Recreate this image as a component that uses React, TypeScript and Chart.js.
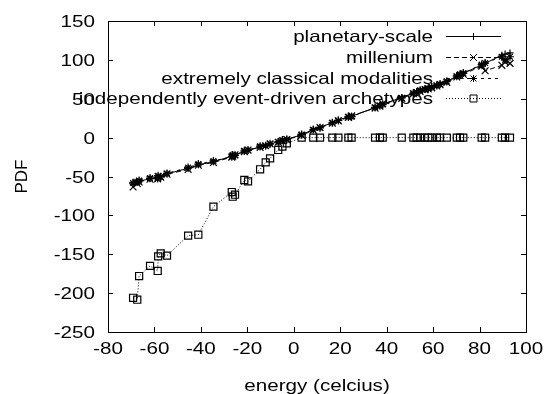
import React, { useEffect, useRef } from "react";
import { Chart, registerables } from "chart.js";

Chart.register(...registerables);

const xValues = [-69.2, -67.4, -66.6, -61.9, -58.6, -58.4, -57.3, -54.6, -45.5, -41.1, -34.6, -26.7, -26.3, -25.3, -21.3, -19.7, -14.5, -12.1, -10.2, -6.7, -4.9, -3.0, 3.4, 8.4, 11.3, 16.6, 19.2, 23.5, 24.9, 35.0, 37.1, 38.3, 46.5, 51.5, 52.9, 54.4, 56.5, 57.9, 59.4, 61.6, 63.0, 65.9, 70.2, 71.6, 73.0, 80.9, 82.4, 89.6, 91.0, 93.1];

const planetary = [-57.5, -56.5, -56, -53, -51.5, -51, -50, -46.5, -39.5, -35, -31, -24, -23.5, -22.5, -17.5, -16.5, -11.7, -10, -8.5, -5, -3.5, -2, 3.5, 10.7, 13.3, 19.2, 22.7, 26.5, 27.5, 38.5, 41.5, 43, 51.5, 57.5, 59, 60.5, 62, 63, 65.5, 67.5, 68.5, 72, 79.5, 81, 82.7, 93.5, 95.6, 106, 107.5, 109];

const millenium = [-63.5, -59, -57, -53.5, -53, -50, -51, -47, -41, -35.5, -32, -25, -24, -22, -18, -16, -12.5, -10.5, -8, -6, -4, -2.5, 3, 9.5, 13, 18.5, 21.5, 26, 28, 38, 40.5, 43.5, 50.5, 56.5, 58, 59.5, 61.5, 62.5, 64, 66.5, 68, 71, 78, 80, 81.5, 92, 86, 93, 97.5, 95.5];

const classical = [-58.5, -57, -55, -52, -52.5, -49, -50.5, -46, -38.5, -34, -30, -24.5, -22.5, -23, -17, -16, -11, -10.5, -8, -5.5, -3, -2.5, 4, 10, 12.5, 19, 22, 27, 27, 39, 41, 42.5, 51, 57, 58.5, 61, 62.5, 63.5, 65, 67, 69, 72.5, 79, 81.5, 83, 94, 96, 104, 100, 104];

const archetypes = [-206, -208.5, -178, -165, -171.5, -152.7, -148.8, -151.8, -126, -124.9, -88.8, -70, -76, -73.4, -54.5, -56.2, -40.7, -31.8, -26.7, -15.9, -11.6, -7.3, 0, 0, 0, 0, 0, 0, 0, 0, 0, 0, 0, 0, 0, 0, 0, 0, 0, 0, 0, 0, 0, 0, 0, 0, 0, 0, 0, 0];

const seriesNames = ["planetary-scale", "millenium", "extremely classical modalities", "independently event-driven archetypes"];
const xTitle = "energy (celcius)";
const yTitle = "PDF";

const FONT = '"Liberation Sans", Arial, sans-serif';
const STRETCH = 1.25;

function toPoints(ys: number[]) {
  return xValues.map((x, i) => ({ x, y: ys[i] }));
}

function drawStretched(ctx: CanvasRenderingContext2D, text: string, x: number, y: number, align: CanvasTextAlign) {
  ctx.save();
  ctx.translate(x, y);
  ctx.scale(STRETCH, 1);
  ctx.textAlign = align;
  ctx.textBaseline = "alphabetic";
  ctx.fillText(text, 0, 0);
  ctx.restore();
}

function drawMarker(ctx: CanvasRenderingContext2D, style: string, x: number, y: number) {
  ctx.save();
  ctx.setLineDash([]);
  ctx.lineWidth = 1;
  ctx.strokeStyle = "#000";
  ctx.beginPath();
  if (style === "cross") {
    ctx.moveTo(x - 3.5, y); ctx.lineTo(x + 3.5, y);
    ctx.moveTo(x, y - 3.5); ctx.lineTo(x, y + 3.5);
  } else if (style === "crossRot") {
    ctx.moveTo(x - 3.5, y - 3.5); ctx.lineTo(x + 3.5, y + 3.5);
    ctx.moveTo(x - 3.5, y + 3.5); ctx.lineTo(x + 3.5, y - 3.5);
  } else if (style === "star") {
    ctx.moveTo(x - 3.5, y); ctx.lineTo(x + 3.5, y);
    ctx.moveTo(x, y - 3.5); ctx.lineTo(x, y + 3.5);
    ctx.moveTo(x - 3, y - 3); ctx.lineTo(x + 3, y + 3);
    ctx.moveTo(x - 3, y + 3); ctx.lineTo(x + 3, y - 3);
  } else {
    ctx.rect(x - 3.5, y - 3.5, 7, 7);
  }
  ctx.stroke();
  ctx.restore();
}

const styles = [
  { dash: [] as number[], point: "cross", radius: 3.5 },
  { dash: [5, 3], point: "crossRot", radius: 4.8 },
  { dash: [3, 4], point: "star", radius: 4 },
  { dash: [1, 2], point: "rect", radius: 5 },
];

const gnuplotPlugin = {
  id: "gnuplotDecor",
  afterDraw(chart: any) {
    const ctx: CanvasRenderingContext2D = chart.ctx;
    const { left, right, top, bottom } = chart.chartArea;
    const xs = chart.scales.x;
    const ys = chart.scales.y;
    ctx.save();
    ctx.strokeStyle = "#000";
    ctx.lineWidth = 1;
    ctx.setLineDash([]);
    ctx.strokeRect(Math.round(left) + 0.5, Math.round(top) + 0.5, Math.round(right - left), Math.round(bottom - top));
    const tl = 5;
    ctx.beginPath();
    xs.ticks.forEach((t: any) => {
      const px = Math.round(xs.getPixelForValue(t.value)) + 0.5;
      ctx.moveTo(px, bottom); ctx.lineTo(px, bottom - tl);
      ctx.moveTo(px, top); ctx.lineTo(px, top + tl);
    });
    ys.ticks.forEach((t: any) => {
      const py = Math.round(ys.getPixelForValue(t.value)) + 0.5;
      ctx.moveTo(left, py); ctx.lineTo(left + tl, py);
      ctx.moveTo(right, py); ctx.lineTo(right - tl, py);
    });
    ctx.stroke();
    ctx.fillStyle = "#000";
    ctx.font = `16.5px ${FONT}`;
    xs.ticks.forEach((t: any) => {
      const px = xs.getPixelForValue(t.value);
      drawStretched(ctx, String(t.value), px, 354, "center");
    });
    ys.ticks.forEach((t: any) => {
      const py = ys.getPixelForValue(t.value);
      drawStretched(ctx, String(t.value), 95, py + 6, "right");
    });
    drawStretched(ctx, xTitle, (left + right) / 2, 391, "center");
    ctx.save();
    ctx.font = `17px ${FONT}`;
    ctx.translate(27, (top + bottom) / 2);
    ctx.rotate(-Math.PI / 2);
    ctx.textAlign = "center";
    ctx.textBaseline = "alphabetic";
    ctx.fillText(yTitle, 0, 0);
    ctx.restore();
    ctx.font = `16.5px ${FONT}`;
    seriesNames.forEach((name, i) => {
      const ly = 35.7 + i * 20.9;
      drawStretched(ctx, name, 433, ly + 6, "right");
      ctx.save();
      ctx.setLineDash(styles[i].dash);
      ctx.beginPath();
      ctx.moveTo(446, Math.round(ly) + 0.5);
      ctx.lineTo(501, Math.round(ly) + 0.5);
      ctx.stroke();
      ctx.restore();
      drawMarker(ctx, styles[i].point, 473.5, Math.round(ly) + 0.5);
    });
    ctx.restore();
  },
};

export default function App() {
  const ref = useRef<HTMLCanvasElement | null>(null);
  useEffect(() => {
    if (!ref.current) return;
    const allSeries = [planetary, millenium, classical, archetypes];
    const chart = new Chart(ref.current, {
      type: "scatter",
      data: {
        datasets: allSeries.map((ys, i) => ({
          label: seriesNames[i],
          data: toPoints(ys),
          showLine: true,
          borderColor: "#000",
          backgroundColor: "rgba(0,0,0,0)",
          borderWidth: 1,
          borderDash: styles[i].dash,
          pointStyle: styles[i].point as any,
          pointRadius: styles[i].radius,
          pointBorderColor: "#000",
          pointBackgroundColor: "rgba(0,0,0,0)",
          pointBorderWidth: 1.2,
          tension: 0,
        })),
      },
      options: {
        responsive: false,
        animation: false,
        devicePixelRatio: 1,
        layout: { padding: { top: 21, right: 22, left: 0, bottom: 0 } },
        plugins: { legend: { display: false }, tooltip: { enabled: false } },
        scales: {
          x: {
            type: "linear",
            min: -80,
            max: 100,
            ticks: { stepSize: 20, display: false },
            grid: { display: false },
            border: { display: false },
            afterFit: (s: any) => { s.height = 62; },
          },
          y: {
            type: "linear",
            min: -250,
            max: 150,
            ticks: { stepSize: 50, display: false },
            grid: { display: false },
            border: { display: false },
            afterFit: (s: any) => { s.width = 108; },
          },
        },
      },
      plugins: [gnuplotPlugin],
    });
    return () => chart.destroy();
  }, []);
  return (
    <div style={{ position: "fixed", left: 0, top: 0, width: 548, height: 394, background: "#fff" }}>
      <canvas ref={ref} width={548} height={394} style={{ width: 548, height: 394 }} />
    </div>
  );
}
